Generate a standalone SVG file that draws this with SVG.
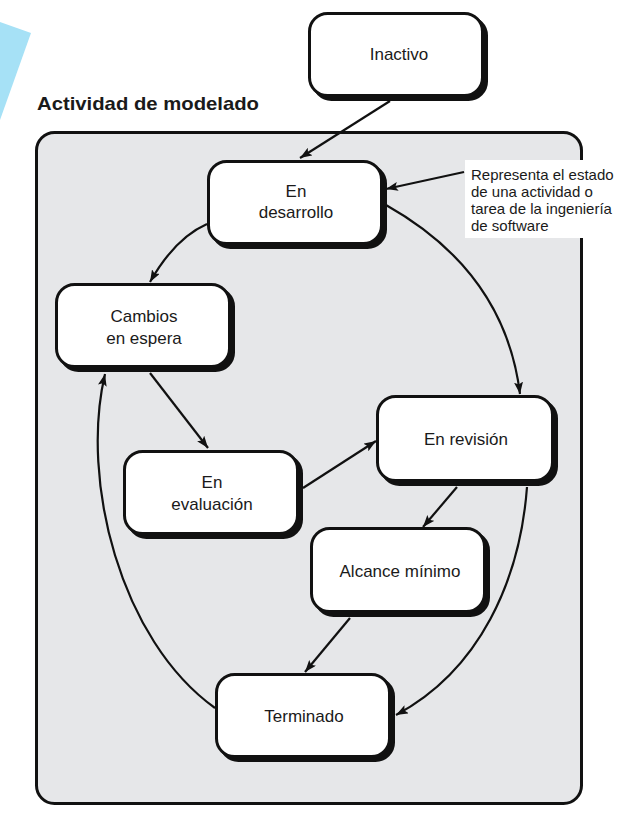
<svg xmlns="http://www.w3.org/2000/svg" width="635" height="815" viewBox="0 0 635 815">
<defs>
<marker id="arr" markerUnits="userSpaceOnUse" markerWidth="13" markerHeight="9" refX="12" refY="4.5" orient="auto">
<path d="M0,0 L12,4.5 L0,9 L2.5,4.5 z" fill="#111"/>
</marker>
</defs>
<style>
.shadow{fill:#111;stroke:#111;stroke-width:3}
.box{fill:#fff;stroke:#111;stroke-width:3}
.lbl{font-family:"Liberation Sans",Arial,sans-serif;font-size:17px;fill:#1a1a1a;text-anchor:middle}
.note{font-family:"Liberation Sans",Arial,sans-serif;font-size:15px;fill:#1a1a1a}
.conn{fill:none;stroke:#111;stroke-width:2.2;marker-end:url(#arr)}
</style>
<rect width="635" height="815" fill="#fff"/>
<polygon points="0,22 31,33 0,120" fill="#a6e1f6"/>
<text x="37" y="110" font-family="Liberation Sans, Arial, sans-serif" font-size="19" font-weight="bold" fill="#1a1a1a" textLength="222" lengthAdjust="spacingAndGlyphs">Actividad de modelado</text>
<g id="container">
<rect x="36.5" y="132.5" width="545" height="671" rx="18" fill="#e6e7e9" stroke="#111" stroke-width="3"/>
</g>
<g id="note">
<rect x="465" y="160" width="155" height="78" fill="#fff"/>
<text class="note" x="471" y="180">Representa el estado</text>
<text class="note" x="471" y="197">de una actividad o</text>
<text class="note" x="471" y="214">tarea de la ingeniería</text>
<text class="note" x="471" y="231">de software</text>
</g>
<g id="inactivo">
<rect class="shadow" x="313.5" y="17.5" width="173" height="82" rx="18"/>
<rect class="box" x="309.5" y="13.5" width="173" height="82" rx="18"/>
<text class="lbl" x="399" y="60">Inactivo</text>
</g>
<g id="en-desarrollo">
<rect class="shadow" x="212.5" y="165.5" width="173" height="82" rx="18"/>
<rect class="box" x="208.5" y="161.5" width="173" height="82" rx="18"/>
<text class="lbl" x="296" y="197">En</text>
<text class="lbl" x="296" y="218">desarrollo</text>
</g>
<g id="cambios">
<rect class="shadow" x="60.5" y="288.5" width="173" height="82" rx="18"/>
<rect class="box" x="56.5" y="284.5" width="173" height="82" rx="18"/>
<text class="lbl" x="144" y="322">Cambios</text>
<text class="lbl" x="144" y="344">en espera</text>
</g>
<g id="en-evaluacion">
<rect class="shadow" x="128.5" y="455.5" width="173" height="82" rx="18"/>
<rect class="box" x="124.5" y="451.5" width="173" height="82" rx="18"/>
<text class="lbl" x="212" y="488">En</text>
<text class="lbl" x="212" y="510">evaluación</text>
</g>
<g id="en-revision">
<rect class="shadow" x="381.5" y="400.5" width="175" height="84" rx="18"/>
<rect class="box" x="377.5" y="396.5" width="175" height="84" rx="18"/>
<text class="lbl" x="466" y="445">En revisión</text>
</g>
<g id="alcance">
<rect class="shadow" x="315.5" y="532.5" width="173" height="83" rx="18"/>
<rect class="box" x="311.5" y="528.5" width="173" height="83" rx="18"/>
<text class="lbl" x="400" y="577">Alcance mínimo</text>
</g>
<g id="terminado">
<rect class="shadow" x="220.5" y="678.5" width="173" height="82" rx="18"/>
<rect class="box" x="216.5" y="674.5" width="173" height="82" rx="18"/>
<text class="lbl" x="304" y="722">Terminado</text>
</g>
<g id="connectors">
<path class="conn" d="M390,101 L300,158"/>
<path class="conn" d="M464,172 L386,189"/>
<path class="conn" d="M207,224 Q175,238 150,282"/>
<path class="conn" d="M386,205 Q505,272 520,394"/>
<path class="conn" d="M150,373 L208,448"/>
<path class="conn" d="M303,488 L376,441"/>
<path class="conn" d="M457,487 L423,527"/>
<path class="conn" d="M350,618 L305,672"/>
<path class="conn" d="M527,487 C520,580 480,670 396,715"/>
<path class="conn" d="M215,708 C120,640 80,480 105,374"/>
</g>
</svg>
